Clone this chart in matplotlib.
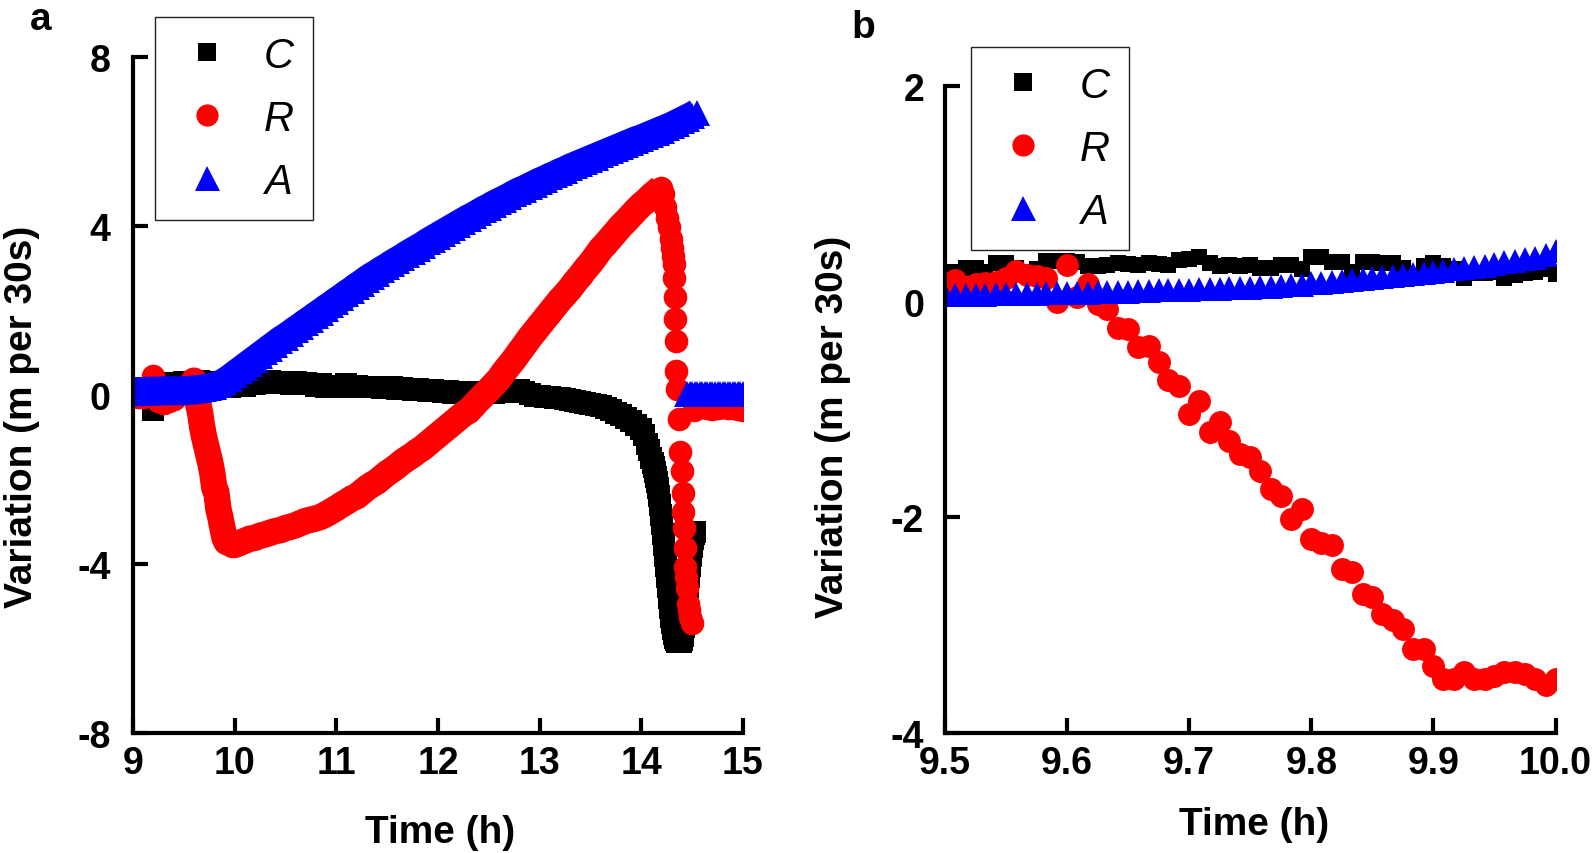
import matplotlib
matplotlib.use("Agg")
import matplotlib.pyplot as plt
from matplotlib.lines import Line2D

plt.rcParams['font.family'] = ['Liberation Sans', 'DejaVu Sans']
plt.rcParams['font.weight'] = 'bold'
plt.rcParams['axes.unicode_minus'] = False

# ---------------------------------------------------------------
# data
# ---------------------------------------------------------------
series_names = ['C', 'R', 'A']

# panel a: 9 h - 15 h
a_time_c = [9.00, 9.05, 9.10, 9.15, 9.20, 9.25, 9.30, 9.35, 9.40, 9.45,
            9.50, 9.55, 9.60, 9.65, 9.70, 9.75, 9.80, 9.85, 9.90, 9.95,
            10.00, 10.05, 10.10, 10.15, 10.20, 10.25, 10.30, 10.35, 10.40, 10.45,
            10.50, 10.55, 10.60, 10.65, 10.70, 10.75, 10.80, 10.85, 10.90, 10.95,
            11.00, 11.05, 11.10, 11.15, 11.20, 11.25, 11.30, 11.35, 11.40, 11.45,
            11.50, 11.55, 11.60, 11.65, 11.70, 11.75, 11.80, 11.85, 11.90, 11.95,
            12.00, 12.05, 12.10, 12.15, 12.20, 12.25, 12.30, 12.35, 12.40, 12.45,
            12.50, 12.55, 12.60, 12.65, 12.70, 12.75, 12.80, 12.85, 12.90, 12.95,
            13.00, 13.05, 13.10, 13.15, 13.20, 13.25, 13.30, 13.35, 13.40, 13.45,
            13.50, 13.55, 13.60, 13.65, 13.70, 13.75, 13.80, 13.85, 13.90, 13.95,
            14.00, 14.03, 14.06, 14.08, 14.10, 14.11, 14.12, 14.13, 14.14, 14.15,
            14.16, 14.17, 14.18, 14.19, 14.20, 14.21, 14.22, 14.23, 14.24, 14.25,
            14.26, 14.27, 14.28, 14.29, 14.30, 14.31, 14.32, 14.33, 14.34, 14.35,
            14.36, 14.37, 14.38, 14.39, 14.40, 14.41, 14.42, 14.43, 14.44, 14.45,
            14.46, 14.47, 14.48, 14.49, 14.50, 14.51, 14.52, 14.53]
a_c = [0.00, 0.05, 0.12, 0.15, -0.35, 0.18, 0.22, 0.25, 0.28, 0.27,
       0.30, 0.28, 0.30, 0.32, 0.30, 0.28, 0.30, 0.25, 0.22, 0.20,
       0.22, 0.25, 0.22, 0.27, 0.25, 0.30, 0.28, 0.32, 0.30, 0.28,
       0.30, 0.27, 0.30, 0.25, 0.28, 0.25, 0.22, 0.25, 0.20, 0.22,
       0.20, 0.22, 0.25, 0.20, 0.22, 0.20, 0.18, 0.20, 0.18, 0.17,
       0.20, 0.18, 0.15, 0.17, 0.15, 0.12, 0.15, 0.12, 0.10, 0.12,
       0.10, 0.08, 0.10, 0.05, 0.07, 0.05, 0.08, 0.06, 0.05, 0.08,
       0.07, 0.05, 0.08, 0.06, 0.08, 0.10, 0.12, 0.08, 0.03, -0.02,
       -0.03, -0.05, -0.05, -0.07, -0.08, -0.10, -0.12, -0.15, -0.16, -0.18,
       -0.22, -0.24, -0.27, -0.30, -0.35, -0.42, -0.48, -0.55, -0.62, -0.70,
       -0.80, -0.95, -1.15, -1.30, -1.50, -1.60, -1.70, -1.82, -1.95, -2.05,
       -2.20, -2.40, -2.60, -2.85, -3.05, -3.30, -3.55, -3.80, -4.05, -4.30,
       -4.55, -4.80, -5.05, -5.25, -5.40, -5.55, -5.65, -5.75, -5.80, -5.85,
       -5.85, -5.85, -5.85, -5.85, -5.80, -5.70, -5.50, -5.30, -5.05, -4.80,
       -4.55, -4.30, -4.05, -3.80, -3.60, -3.40, -3.30, -3.25]

a_time_r = [9.00, 9.05, 9.10, 9.15, 9.20, 9.25, 9.30, 9.35, 9.40, 9.45,
            9.50, 9.55, 9.58, 9.60, 9.62, 9.64, 9.66, 9.68, 9.70, 9.72,
            9.74, 9.76, 9.78, 9.80, 9.82, 9.84, 9.86, 9.88, 9.90, 9.92,
            9.94, 9.96, 9.98, 10.00, 10.05, 10.10, 10.15, 10.20, 10.25, 10.30,
            10.35, 10.40, 10.45, 10.50, 10.55, 10.60, 10.65, 10.70, 10.75, 10.80,
            10.85, 10.90, 10.95, 11.00, 11.05, 11.10, 11.15, 11.20, 11.25, 11.30,
            11.35, 11.40, 11.45, 11.50, 11.55, 11.60, 11.65, 11.70, 11.75, 11.80,
            11.85, 11.90, 11.95, 12.00, 12.05, 12.10, 12.15, 12.20, 12.25, 12.30,
            12.35, 12.40, 12.45, 12.50, 12.55, 12.60, 12.65, 12.70, 12.75, 12.80,
            12.85, 12.90, 12.95, 13.00, 13.05, 13.10, 13.15, 13.20, 13.25, 13.30,
            13.35, 13.40, 13.45, 13.50, 13.55, 13.60, 13.65, 13.70, 13.75, 13.80,
            13.85, 13.90, 13.95, 14.00, 14.05, 14.10, 14.15, 14.19, 14.21, 14.235,
            14.25, 14.27, 14.29, 14.30, 14.31, 14.32, 14.325, 14.33, 14.335, 14.34,
            14.345, 14.35, 14.37, 14.38, 14.40, 14.405, 14.41, 14.42, 14.425, 14.43,
            14.44, 14.45, 14.46, 14.47, 14.48, 14.50,
            14.52, 14.55, 14.60, 14.65, 14.70, 14.75, 14.80, 14.85, 14.90, 14.95, 15.00]
a_r = [0.00, -0.05, -0.05, 0.05, 0.45, -0.15, -0.20, -0.15, -0.10, 0.05,
       0.18, 0.22, 0.24, 0.34, 0.10, -0.20, -0.42, -0.75, -1.00, -1.20,
       -1.40, -1.60, -1.85, -2.20, -2.30, -2.70, -2.90, -3.15, -3.38, -3.48,
       -3.50, -3.52, -3.55, -3.55, -3.50, -3.45, -3.40, -3.38, -3.33, -3.30,
       -3.26, -3.22, -3.20, -3.15, -3.12, -3.08, -3.03, -2.98, -2.95, -2.92,
       -2.88, -2.82, -2.75, -2.68, -2.60, -2.53, -2.45, -2.40, -2.30, -2.20,
       -2.12, -2.05, -1.95, -1.85, -1.77, -1.68, -1.58, -1.50, -1.42, -1.33,
       -1.25, -1.15, -1.05, -0.95, -0.85, -0.75, -0.65, -0.55, -0.45, -0.38,
       -0.25, -0.12, 0.00, 0.12, 0.25, 0.38, 0.55, 0.70, 0.85, 1.02,
       1.18, 1.35, 1.50, 1.65, 1.80, 1.95, 2.10, 2.25, 2.38, 2.52,
       2.68, 2.82, 2.98, 3.12, 3.28, 3.45, 3.58, 3.72, 3.86, 4.00,
       4.12, 4.25, 4.38, 4.50, 4.60, 4.72, 4.82, 4.90, 4.75, 4.44,
       4.20, 3.97, 3.70, 3.49, 3.30, 3.10, 2.78, 2.31, 1.80, 1.28,
       0.57, 0.14, -0.57, -1.36, -1.80, -2.31, -2.78, -3.14, -3.61, -4.08,
       -4.30, -4.56, -4.95, -5.10, -5.25, -5.39,
       -0.35, -0.30, -0.28, -0.30, -0.32, -0.30, -0.28, -0.30, -0.30, -0.32, -0.35]

a_time_a = [9.00, 9.05, 9.10, 9.15, 9.20, 9.25, 9.30, 9.35, 9.40, 9.45,
            9.50, 9.55, 9.60, 9.65, 9.70, 9.75, 9.80, 9.85, 9.90, 9.95,
            10.00, 10.05, 10.10, 10.15, 10.20, 10.25, 10.30, 10.35, 10.40, 10.45,
            10.50, 10.55, 10.60, 10.65, 10.70, 10.75, 10.80, 10.85, 10.90, 10.95,
            11.00, 11.05, 11.10, 11.15, 11.20, 11.25, 11.30, 11.35, 11.40, 11.45,
            11.50, 11.55, 11.60, 11.65, 11.70, 11.75, 11.80, 11.85, 11.90, 11.95,
            12.00, 12.05, 12.10, 12.15, 12.20, 12.25, 12.30, 12.35, 12.40, 12.45,
            12.50, 12.55, 12.60, 12.65, 12.70, 12.75, 12.80, 12.85, 12.90, 12.95,
            13.00, 13.05, 13.10, 13.15, 13.20, 13.25, 13.30, 13.35, 13.40, 13.45,
            13.50, 13.55, 13.60, 13.65, 13.70, 13.75, 13.80, 13.85, 13.90, 13.95,
            14.00, 14.05, 14.10, 14.15, 14.20, 14.25, 14.30, 14.35, 14.40, 14.45,
            14.50, 14.55,
            14.45, 14.475, 14.50, 14.525, 14.55, 14.575, 14.60, 14.625, 14.65, 14.675,
            14.70, 14.725, 14.75, 14.775, 14.80, 14.825, 14.85, 14.875, 14.90, 14.925,
            14.95, 14.975, 15.00]
a_a = [0.08, 0.08, 0.08, 0.09, 0.09, 0.09, 0.10, 0.10, 0.10, 0.10,
       0.10, 0.11, 0.12, 0.13, 0.15, 0.17, 0.20, 0.24, 0.30, 0.38,
       0.47, 0.56, 0.65, 0.74, 0.83, 0.92, 1.01, 1.10, 1.19, 1.28,
       1.36, 1.44, 1.53, 1.61, 1.70, 1.78, 1.87, 1.95, 2.04, 2.12,
       2.21, 2.29, 2.38, 2.46, 2.55, 2.63, 2.72, 2.80, 2.87, 2.95,
       3.02, 3.10, 3.17, 3.24, 3.32, 3.39, 3.46, 3.53, 3.61, 3.68,
       3.75, 3.82, 3.89, 3.96, 4.03, 4.10, 4.17, 4.23, 4.30, 4.37,
       4.43, 4.50, 4.56, 4.62, 4.68, 4.75, 4.81, 4.86, 4.92, 4.98,
       5.04, 5.09, 5.15, 5.20, 5.26, 5.31, 5.37, 5.42, 5.47, 5.52,
       5.57, 5.62, 5.67, 5.72, 5.77, 5.82, 5.87, 5.92, 5.97, 6.02,
       6.06, 6.11, 6.16, 6.21, 6.26, 6.31, 6.36, 6.42, 6.48, 6.54,
       6.60, 6.67,
       0.02, 0.03, 0.03, 0.03, 0.03, 0.03, 0.03, 0.03, 0.03, 0.03,
       0.03, 0.03, 0.03, 0.03, 0.03, 0.03, 0.03, 0.03, 0.03, 0.03,
       0.03, 0.03, 0.03]

# index ranges where the 30 s samples overlap into one solid band
a_band_r = (12, 118)   # 9.58 h .. 14.19 h (peak)
a_band_a = (0, 112)    # 9.00 h .. 14.55 h

# panel b: 9.5 h - 10.0 h, one value per 30 s
b_time = [9.500, 9.508, 9.517, 9.525, 9.533, 9.542, 9.550, 9.558, 9.567, 9.575,
          9.583, 9.592, 9.600, 9.608, 9.617, 9.625, 9.633, 9.642, 9.650, 9.658,
          9.667, 9.675, 9.683, 9.692, 9.700, 9.708, 9.717, 9.725, 9.733, 9.742,
          9.750, 9.758, 9.767, 9.775, 9.783, 9.792, 9.800, 9.808, 9.817, 9.825,
          9.833, 9.842, 9.850, 9.858, 9.867, 9.875, 9.883, 9.892, 9.900, 9.908,
          9.917, 9.925, 9.933, 9.942, 9.950, 9.958, 9.967, 9.975, 9.983, 9.992,
          10.000]
b_c = [0.22, 0.28, 0.31, 0.31, 0.28, 0.36, 0.36, 0.31, 0.28, 0.30,
       0.38, 0.38, 0.38, 0.37, 0.33, 0.33, 0.34, 0.36, 0.35, 0.34,
       0.36, 0.35, 0.34, 0.39, 0.40, 0.42, 0.36, 0.33, 0.34, 0.33,
       0.34, 0.31, 0.31, 0.34, 0.34, 0.30, 0.42, 0.42, 0.37, 0.37,
       0.28, 0.37, 0.37, 0.36, 0.36, 0.31, 0.22, 0.33, 0.36, 0.33,
       0.30, 0.22, 0.27, 0.27, 0.28, 0.22, 0.25, 0.27, 0.28, 0.30,
       0.26]
b_r = [0.15, 0.20, 0.14, 0.165, 0.17, 0.18, 0.22, 0.29, 0.25, 0.24,
       0.22, 0.00, 0.34, 0.04, 0.165, -0.02, -0.07, -0.24, -0.25, -0.42,
       -0.41, -0.56, -0.73, -0.78, -1.04, -0.92, -1.21, -1.12, -1.29, -1.41,
       -1.44, -1.57, -1.74, -1.80, -2.02, -1.92, -2.20, -2.24, -2.26, -2.48,
       -2.51, -2.71, -2.74, -2.90, -2.95, -3.04, -3.22, -3.22, -3.38, -3.50,
       -3.50, -3.44, -3.50, -3.50, -3.47, -3.44, -3.44, -3.46, -3.50, -3.56,
       -3.50]
b_a = [0.06, 0.06, 0.06, 0.065, 0.065, 0.07, 0.07, 0.07, 0.075, 0.075,
       0.08, 0.08, 0.08, 0.085, 0.085, 0.09, 0.09, 0.095, 0.095, 0.10,
       0.10, 0.105, 0.105, 0.11, 0.11, 0.115, 0.12, 0.12, 0.125, 0.13,
       0.13, 0.135, 0.14, 0.15, 0.155, 0.16, 0.17, 0.175, 0.18, 0.19,
       0.20, 0.21, 0.22, 0.23, 0.24, 0.25, 0.26, 0.27, 0.28, 0.29,
       0.30, 0.31, 0.32, 0.335, 0.35, 0.365, 0.38, 0.395, 0.41, 0.43,
       0.47]

# ---------------------------------------------------------------
# styling
# ---------------------------------------------------------------
COLORS = {'C': '#000000', 'R': '#ff0000', 'A': '#0000ff'}
MARKERS = {'C': 's', 'R': 'o', 'A': '^'}
MS_A = {'C': 15.5, 'R': 17, 'A': 19}
MS_B = {'C': 12, 'R': 16.5, 'A': 17}
LEGEND_MS = {'C': 13, 'R': 16, 'A': 18}

FIG_W, FIG_H = 1593, 854
TICK_SIZE = 27
LABEL_SIZE = 28


def style_axes(ax, xlim, ylim, xticks, yticks, xticklabels=None, ypad=15):
    ax.set_xlim(*xlim)
    ax.set_ylim(*ylim)
    ax.set_xticks(xticks)
    ax.set_yticks(yticks)
    if xticklabels is not None:
        ax.set_xticklabels(xticklabels)
    for side in ('top', 'right'):
        ax.spines[side].set_visible(False)
    for side in ('left', 'bottom'):
        ax.spines[side].set_linewidth(3)
    ax.tick_params(axis='both', direction='in', length=11, width=3,
                   labelsize=TICK_SIZE)
    ax.tick_params(axis='y', pad=ypad)
    ax.tick_params(axis='x', pad=9)


def add_legend(ax, anchor_px):
    handles = [Line2D([], [], linestyle='none', marker=MARKERS[k],
                      color=COLORS[k], markersize=LEGEND_MS[k],
                      markeredgewidth=0) for k in series_names]
    leg = ax.legend(handles, series_names, loc='upper left',
                    bbox_to_anchor=(anchor_px[0] / FIG_W, 1 - anchor_px[1] / FIG_H),
                    bbox_transform=ax.figure.transFigure,
                    prop={'family': 'Liberation Sans', 'style': 'italic',
                          'weight': 'normal', 'size': 30},
                    frameon=True, fancybox=False, framealpha=1,
                    edgecolor='#222222', borderpad=0.45,
                    handlelength=1.6, handletextpad=0.56, labelspacing=0.55,
                    borderaxespad=0)
    leg.get_frame().set_linewidth(1.0)
    leg.set_zorder(10)
    return leg


def draw_series(ax, times, values, key, ms, band=None, band_lw=None):
    # band: index range where the dense samples merge into a solid stroke
    if band is not None:
        i0, i1 = band
        ax.plot(times[i0:i1], values[i0:i1], '-', color=COLORS[key],
                linewidth=band_lw, solid_capstyle='butt', solid_joinstyle='round')
    ax.plot(times, values, linestyle='none', marker=MARKERS[key],
            color=COLORS[key], markersize=ms, markeredgewidth=0)


def set_labels(ax, xpos, ypos):
    ax.set_xlabel('Time (h)', fontsize=LABEL_SIZE, fontweight='bold')
    ax.set_ylabel('Variation (m per 30s)', fontsize=LABEL_SIZE, fontweight='bold')
    ax.xaxis.label.set_va('center')
    ax.yaxis.label.set_va('center')
    ax.xaxis.set_label_coords(*xpos)
    ax.yaxis.set_label_coords(*ypos)


fig = plt.figure(figsize=(FIG_W / 100, FIG_H / 100), dpi=100)

# --- panel a ---
ax_a = fig.add_axes([133 / FIG_W, 1 - 734 / FIG_H, 610 / FIG_W, 676 / FIG_H])
draw_series(ax_a, a_time_c, a_c, 'C', MS_A['C'])
draw_series(ax_a, a_time_r, a_r, 'R', MS_A['R'], band=a_band_r, band_lw=19)
draw_series(ax_a, a_time_a, a_a, 'A', MS_A['A'], band=a_band_a, band_lw=21)
style_axes(ax_a, (9, 15), (-8, 8), [9, 10, 11, 12, 13, 14, 15], [-8, -4, 0, 4, 8],
           ypad=16)
set_labels(ax_a, (0.503, -0.146), (-0.182, 0.469))
add_legend(ax_a, (155, 18))

# --- panel b ---
ax_b = fig.add_axes([945 / FIG_W, 1 - 733.6 / FIG_H, 610.5 / FIG_W, 646.2 / FIG_H])
draw_series(ax_b, b_time, b_c, 'C', MS_B['C'])
draw_series(ax_b, b_time, b_r, 'R', MS_B['R'])
draw_series(ax_b, b_time, b_a, 'A', MS_B['A'])
style_axes(ax_b, (9.5, 10.0), (-4, 2), [9.5, 9.6, 9.7, 9.8, 9.9, 10.0], [-4, -2, 0, 2],
           xticklabels=['9.5', '9.6', '9.7', '9.8', '9.9', '10.0'])
set_labels(ax_b, (0.506, -0.141), (-0.183, 0.474))
add_legend(ax_b, (971, 48))

# panel letters
fig.text(30 / FIG_W, 1 - 30 / FIG_H, 'a', fontsize=28, fontweight='bold',
         ha='left', va='baseline')
fig.text(851 / FIG_W, 1 - 38 / FIG_H, 'b', fontsize=28, fontweight='bold',
         ha='left', va='baseline')

fig.savefig('out.png', dpi=100)
